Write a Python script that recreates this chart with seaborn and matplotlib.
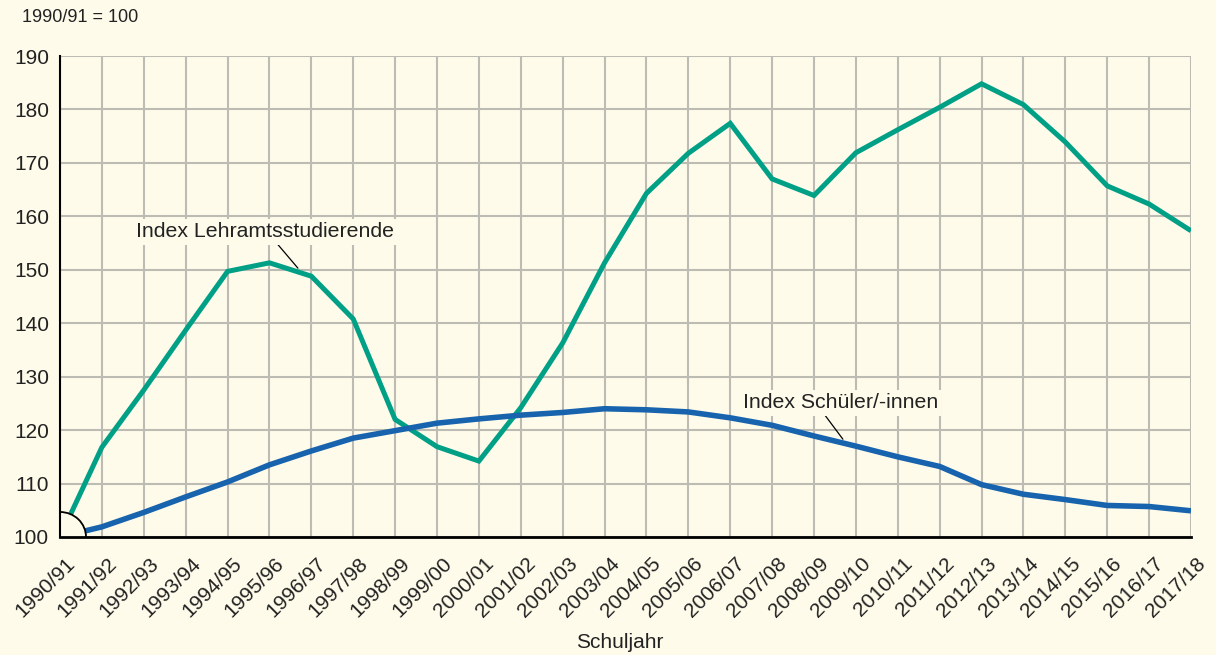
import numpy as np
import pandas as pd
import matplotlib
matplotlib.use("Agg")
import matplotlib.pyplot as plt
import matplotlib.transforms as mtransforms
from matplotlib.patches import Ellipse
import seaborn as sns

# --- data (index, 1990/91 = 100) ---
years = ["1990/91", "1991/92", "1992/93", "1993/94", "1994/95", "1995/96", "1996/97",
         "1997/98", "1998/99", "1999/00", "2000/01", "2001/02", "2002/03", "2003/04",
         "2004/05", "2005/06", "2006/07", "2007/08", "2008/09", "2009/10", "2010/11",
         "2011/12", "2012/13", "2013/14", "2014/15", "2015/16", "2016/17", "2017/18"]
lehramt = [100, 116.8, 127.5, 138.7, 149.7, 151.3, 148.8, 140.8, 122.0, 116.9, 114.2,
           124.2, 136.3, 151.3, 164.3, 171.8, 177.4, 167.0, 163.9, 171.9, 176.2,
           180.4, 184.8, 180.9, 173.9, 165.7, 162.3, 157.3]
schueler = [100, 101.9, 104.6, 107.5, 110.3, 113.5, 116.1, 118.5, 119.9, 121.3, 122.1,
            122.8, 123.3, 124.0, 123.8, 123.4, 122.3, 120.9, 118.9, 117.0, 115.0,
            113.2, 109.8, 108.0, 107.0, 105.9, 105.7, 104.9]

label_lehramt = "Index Lehramtsstudierende"
label_schueler = "Index Schüler/-innen"

BG = "#fefbea"
GREEN = "#00a086"
BLUE = "#1863ad"
GRID = "#bdbcb4"
TXT = "#222222"

df = pd.DataFrame({
    "pos": list(range(len(years))) * 2,
    "index": lehramt + schueler,
    "serie": [label_lehramt] * len(years) + [label_schueler] * len(years),
})

sns.set_style("white")
plt.rcParams["font.family"] = ["Liberation Sans", "DejaVu Sans"]

fig = plt.figure(figsize=(12.16, 6.55), dpi=100, facecolor=BG)
ax = fig.add_axes([60 / 1216, 1 - 537 / 655, (1191 - 60) / 1216, (537 - 56) / 655])
ax.set_facecolor(BG)

sns.lineplot(data=df, x="pos", y="index", hue="serie",
             palette={label_lehramt: GREEN, label_schueler: BLUE},
             size="serie", sizes={label_lehramt: 3.6, label_schueler: 4.0},
             legend=False, ax=ax, zorder=3)
for ln in ax.lines:
    ln.set_solid_capstyle("butt")
    ln.set_solid_joinstyle("miter")

ax.set_xlim(0, len(years) - 1)
ax.set_ylim(100, 190)
ax.set_xticks(range(len(years)))
ax.set_xticklabels(years)
ax.set_yticks(range(100, 191, 10))

ax.grid(True, color=GRID, linewidth=1.5, zorder=0)
ax.set_axisbelow(True)

for s in ["top", "right"]:
    ax.spines[s].set_visible(False)
ax.spines["left"].set_color("black")
ax.spines["left"].set_linewidth(1.5)
ax.spines["bottom"].set_color("black")
ax.spines["bottom"].set_linewidth(2)
ax.spines["left"].set_zorder(6)
ax.spines["bottom"].set_zorder(6)

ax.tick_params(axis="x", direction="in", length=10, width=1.5, color="black",
               labelsize=15, labelcolor=TXT, pad=12)
ax.tick_params(axis="y", length=0, labelsize=15, labelcolor=TXT, pad=8)
offset = mtransforms.ScaledTranslation(5 / 100, 0, fig.dpi_scale_trans)
for lab in ax.get_xticklabels():
    lab.set_rotation(45)
    lab.set_ha("right")
    lab.set_va("top")
    lab.set_rotation_mode("anchor")
    lab.set_transform(lab.get_transform() + offset)

ax.set_xlabel("")
ax.set_ylabel("")

# quarter circle at origin
circ = Ellipse((0, 100), width=2 * 26 / 41.89, height=2 * 25 / 5.344,
               facecolor=BG, edgecolor="black", linewidth=1.3, zorder=5)
ax.add_patch(circ)

# annotations
box = dict(boxstyle="square,pad=0.15", facecolor=BG, edgecolor="none")
ax.annotate(label_lehramt, xy=(5.68, 150.3), xytext=(1.81, 157.1),
            ha="left", va="center", fontsize=15.3, color=TXT, bbox=box, zorder=4,
            arrowprops=dict(arrowstyle="-", color="black", lw=0.9,
                            relpos=(0.54, 0), shrinkA=0, shrinkB=0))
ax.annotate(label_schueler, xy=(18.69, 118.3), xytext=(16.3, 125.1),
            ha="left", va="center", fontsize=15.3, color=TXT, bbox=box, zorder=4,
            arrowprops=dict(arrowstyle="-", color="black", lw=0.9,
                            relpos=(0.41, 0), shrinkA=0, shrinkB=0))

fig.text(22 / 1216, 1 - 18 / 655, "1990/91 = 100", fontsize=13, color=TXT,
         ha="left", va="center")
fig.text(620 / 1216, 1 - 643 / 655, "Schuljahr", fontsize=15, color=TXT,
         ha="center", va="center")

fig.savefig("out.png", dpi=100, facecolor=BG)
